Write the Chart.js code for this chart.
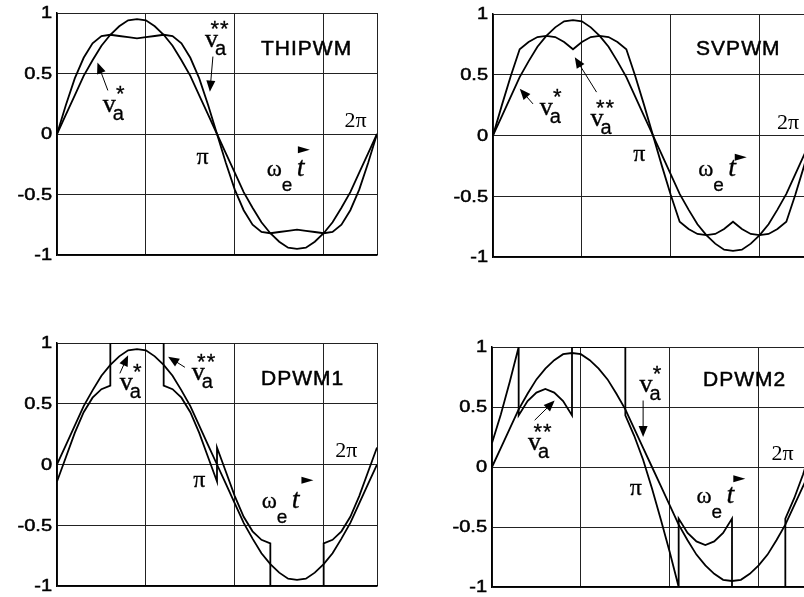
<!DOCTYPE html>
<html>
<head>
<meta charset="utf-8">
<script src="https://cdn.jsdelivr.net/npm/chart.js@4/dist/chart.umd.min.js"></script>
<style>
  html, body { margin: 0; padding: 0; width: 804px; height: 597px; overflow: hidden; background: #fff; }
  canvas { position: absolute; }
</style>
</head>
<body>
<canvas id="c1"></canvas>
<canvas id="c2"></canvas>
<canvas id="c3"></canvas>
<canvas id="c4"></canvas>
<script>
// angle in degrees, 0..360 (0..2pi)
const theta = [0,10,20,30,40,50,60,70,80,90,100,110,120,130,140,150,160,170,180,
  190,200,210,220,230,240,250,260,270,280,290,300,310,320,330,340,350,360];

// reference v_a*
const vRef = [0,0.16,0.32,0.48,0.61,0.73,0.82,0.89,0.94,0.95,0.94,0.89,0.82,0.73,0.61,0.48,0.32,0.16,0,
  -0.16,-0.32,-0.48,-0.61,-0.73,-0.82,-0.89,-0.94,-0.95,-0.94,-0.89,-0.82,-0.73,-0.61,-0.48,-0.32,-0.16,0];

// THIPWM v_a**
const vThi = [0,0.24,0.46,0.63,0.75,0.81,0.82,0.81,0.80,0.79,0.80,0.81,0.82,0.81,0.75,0.63,0.46,0.24,0,
  -0.24,-0.46,-0.63,-0.75,-0.81,-0.82,-0.81,-0.80,-0.79,-0.80,-0.81,-0.82,-0.81,-0.75,-0.63,-0.46,-0.24,0];

// SVPWM v_a**
const vSv = [0,0.25,0.49,0.71,0.77,0.81,0.82,0.81,0.77,0.71,0.77,0.81,0.82,0.81,0.77,0.71,0.49,0.25,0,
  -0.25,-0.49,-0.71,-0.77,-0.81,-0.82,-0.81,-0.77,-0.71,-0.77,-0.81,-0.82,-0.81,-0.77,-0.71,-0.49,-0.25,0];

// DPWM1 v_a** (repeated angles = jumps)
const thetaD1 = [0,10,20,30,40,50,60,60,120,120,130,140,150,160,170,180,180,190,200,210,220,230,240,
  240,300,300,310,320,330,340,350,360];
const vD1 = [-0.14,0.06,0.26,0.43,0.55,0.62,0.65,1,1,0.65,0.62,0.55,0.43,0.26,0.06,-0.14,0.14,-0.06,-0.26,-0.43,-0.55,-0.62,-0.65,
  -1,-1,-0.65,-0.62,-0.55,-0.43,-0.26,-0.06,0.14];

// DPWM2 v_a**
const thetaD2 = [0,10,20,30,30,40,50,60,70,80,90,90,150,150,160,170,180,190,200,210,
  210,220,230,240,250,260,270,270,330,330,340,350,360];
const vD2 = [0.2,0.44,0.71,1,0.43,0.55,0.62,0.65,0.62,0.55,0.43,1,1,0.43,0.26,0.06,-0.18,-0.44,-0.71,-1,
  -0.43,-0.55,-0.62,-0.65,-0.62,-0.55,-0.43,-1,-1,-0.43,-0.26,-0.06,0.18];

const yTicks = [1, 0.5, 0, -0.5, -1];
const yTickLabels = ['1', '0.5', '0', '-0.5', '-1'];

const SANS = '"Liberation Sans", Arial, sans-serif';
const SERIF = '"Liberation Serif", "Times New Roman", serif';

const PAD = {left: 60, top: 12, right: 30, bottom: 12};

const plots = [
  {id: 'c1', left: 57, top: 13, w: 320, h: 242, x: theta, v: vThi,
    notes: [
      {t: 'txt', s: 'THIPWM', x: 229.5, y: 0.65},
      {t: '2pi', x: 323.5, y: 0.06},
      {t: 'pi', x: 157, y: -0.25},
      {t: 'wt', x: 236, y: -0.345},
      {t: 'tri', x: 271, y: -0.13},
      {t: 'va', s: '*', x: 51.5, y: 0.18},
      {t: 'arrow', x1: 57.2, y1: 0.36, x2: 45.5, y2: 0.59},
      {t: 'va', s: '**', x: 166.5, y: 0.716},
      {t: 'arrow', x1: 175.4, y1: 0.64, x2: 172, y2: 0.35}
    ]},
  {id: 'c2', left: 493, top: 14, w: 320, h: 243, x: theta, v: vSv,
    notes: [
      {t: 'txt', s: 'SVPWM', x: 228.5, y: 0.66},
      {t: '2pi', x: 319.4, y: 0.055},
      {t: 'pi', x: 157.8, y: -0.21},
      {t: 'wt', x: 231, y: -0.33},
      {t: 'tri', x: 272, y: -0.18},
      {t: 'va', s: '*', x: 52.6, y: 0.165},
      {t: 'arrow', x1: 45, y1: 0.26, x2: 30.1, y2: 0.385},
      {t: 'va', s: '**', x: 109.8, y: 0.08},
      {t: 'arrow', x1: 116.5, y1: 0.357, x2: 92, y2: 0.645}
    ]},
  {id: 'c3', left: 57, top: 343, w: 320, h: 243, x: thetaD1, v: vD1,
    notes: [
      {t: 'txt', s: 'DPWM1', x: 229.5, y: 0.654},
      {t: '2pi', x: 312.9, y: 0.063},
      {t: 'pi', x: 153.3, y: -0.185},
      {t: 'wt', x: 230.4, y: -0.36},
      {t: 'tri', x: 275, y: -0.13},
      {t: 'va', s: '*', x: 70.7, y: 0.613},
      {t: 'arrow', x1: 70.7, y1: 0.75, x2: 80, y2: 0.9},
      {t: 'va', s: '**', x: 151.5, y: 0.695},
      {t: 'arrow', x1: 143.9, y1: 0.8, x2: 125, y2: 0.887}
    ]},
  {id: 'c4', left: 492, top: 347, w: 320, h: 240, x: thetaD2, v: vD2,
    notes: [
      {t: 'txt', s: 'DPWM2', x: 237.5, y: 0.678},
      {t: '2pi', x: 314.3, y: 0.056},
      {t: 'pi', x: 155, y: -0.235},
      {t: 'wt', x: 230, y: -0.30},
      {t: 'tri', x: 271.5, y: -0.097},
      {t: 'va', s: '*', x: 166, y: 0.623},
      {t: 'arrow', x1: 170, y1: 0.554, x2: 170, y2: 0.25},
      {t: 'va', s: '**', x: 40.6, y: 0.139},
      {t: 'arrow', x1: 48, y1: 0.39, x2: 70.5, y2: 0.554}
    ]}
];

function text(ctx, s, x, y, font, opt) {
  opt = opt || {};
  ctx.save();
  ctx.translate(x, y);
  if (opt.sx) ctx.scale(opt.sx, 1);
  ctx.font = font;
  ctx.letterSpacing = opt.ls || '0px';
  ctx.textAlign = opt.align || 'left';
  ctx.textBaseline = opt.base || 'alphabetic';
  ctx.fillText(s, 0, 0);
  if (opt.bold) {
    ctx.lineWidth = opt.bold;
    ctx.strokeText(s, 0, 0);
  }
  ctx.restore();
}

function arrow(ctx, x1, y1, x2, y2) {
  const a = Math.atan2(y2 - y1, x2 - x1);
  const len = 11, hw = 4.5;
  ctx.beginPath();
  ctx.moveTo(x1, y1);
  ctx.lineTo(x2 - Math.cos(a) * len * 0.8, y2 - Math.sin(a) * len * 0.8);
  ctx.lineWidth = 1;
  ctx.stroke();
  ctx.beginPath();
  ctx.moveTo(x2, y2);
  ctx.lineTo(x2 - Math.cos(a) * len - Math.sin(a) * hw, y2 - Math.sin(a) * len + Math.cos(a) * hw);
  ctx.lineTo(x2 - Math.cos(a) * len + Math.sin(a) * hw, y2 - Math.sin(a) * len - Math.cos(a) * hw);
  ctx.closePath();
  ctx.fill();
}

function notesPlugin(notes) {
  return {
    id: 'notes',
    afterDraw(chart) {
      const ctx = chart.ctx;
      const xs = chart.scales.x, ys = chart.scales.y;
      const area = chart.chartArea;
      ctx.save();
      ctx.fillStyle = '#000';
      ctx.strokeStyle = '#000';
      // y tick labels
      yTicks.forEach((v, i) => {
        text(ctx, yTickLabels[i], area.left - 5, ys.getPixelForValue(v) + 1, '16px ' + SANS,
          {sx: 1.25, align: 'right', base: 'middle', bold: 0.5});
      });
      notes.forEach(n => {
        if (n.t === 'arrow') {
          arrow(ctx, xs.getPixelForValue(n.x1), ys.getPixelForValue(n.y1), xs.getPixelForValue(n.x2), ys.getPixelForValue(n.y2));
          return;
        }
        const px = xs.getPixelForValue(n.x), py = ys.getPixelForValue(n.y);
        if (n.t === 'txt') {
          text(ctx, n.s, px, py, '21px ' + SANS, {ls: '1px', bold: 0.5});
        } else if (n.t === '2pi') {
          text(ctx, '2π', px, py, '22px ' + SERIF);
        } else if (n.t === 'pi') {
          text(ctx, 'π', px, py, '24px ' + SERIF, {bold: 0.3});
        } else if (n.t === 'wt') {
          text(ctx, 'ω', px, py, '23px ' + SERIF, {bold: 0.3});
          text(ctx, 'e', px + 15, py + 15, '19px ' + SANS, {bold: 0.3});
          text(ctx, 't', px + 30, py, 'italic 28px ' + SERIF, {bold: 0.3});
        } else if (n.t === 'tri') {
          ctx.beginPath();
          ctx.moveTo(px, py - 3.5);
          ctx.lineTo(px + 12, py);
          ctx.lineTo(px, py + 3.5);
          ctx.closePath();
          ctx.fill();
        } else if (n.t === 'va') {
          text(ctx, 'v', px, py, '26px ' + SERIF, {bold: 0.4});
          text(ctx, 'a', px + 10, py + 8, '20px ' + SANS, {bold: 0.3});
          text(ctx, n.s, px + (n.s.length > 1 ? 15 : 18), py - 11, '22px ' + SANS,
            {ls: '1px', align: 'center', bold: 0.3});
        }
      });
      ctx.restore();
    }
  };
}

plots.forEach(p => {
  const cv = document.getElementById(p.id);
  cv.width = p.w + PAD.left + PAD.right;
  cv.height = p.h + PAD.top + PAD.bottom;
  cv.style.left = (p.left - PAD.left) + 'px';
  cv.style.top = (p.top - PAD.top) + 'px';
  new Chart(cv.getContext('2d'), {
    type: 'line',
    data: {
      datasets: [
        {data: theta.map((t, i) => ({x: t, y: vRef[i]}))},
        {data: p.x.map((t, i) => ({x: t, y: p.v[i]}))}
      ]
    },
    options: {
      responsive: false,
      animation: false,
      devicePixelRatio: 1,
      layout: {padding: PAD},
      elements: {
        line: {borderColor: '#000', borderWidth: 1.8, tension: 0, fill: false},
        point: {radius: 0, hoverRadius: 0}
      },
      plugins: {legend: {display: false}, tooltip: {enabled: false}},
      events: [],
      scales: {
        x: {
          type: 'linear', min: 0, max: 360,
          ticks: {display: false, stepSize: 100},
          grid: {color: '#222', lineWidth: 1, drawTicks: false},
          border: {color: '#000', width: 1.5},
          afterFit: s => { s.height = 0; }
        },
        y: {
          type: 'linear', min: -1, max: 1,
          ticks: {display: false, stepSize: 0.5},
          grid: {color: '#222', lineWidth: 1, drawTicks: false},
          border: {color: '#000', width: 1.5},
          afterFit: s => { s.width = 0; }
        }
      }
    },
    plugins: [notesPlugin(p.notes)]
  });
});
</script>
</body>
</html>
